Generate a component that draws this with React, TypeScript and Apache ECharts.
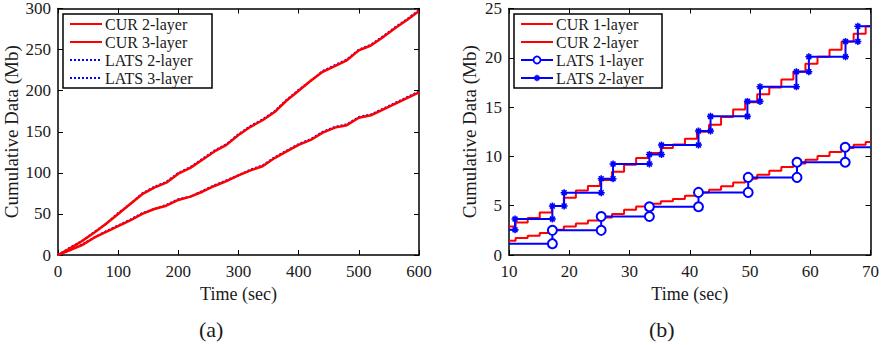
import React, { useEffect, useRef } from "react";
import * as echarts from "echarts";

// ---------- Panel (a) ----------
const timeA = [0, 20, 40, 60, 80, 100, 120, 140, 160, 180, 200, 220, 240, 260, 280, 300, 320, 340, 360, 380, 400, 420, 440, 460, 480, 500, 520, 540, 560, 580, 600];
const cur2A = [0, 6, 12, 21, 28, 35, 42, 50, 56, 60, 67, 71, 77, 84, 90, 97, 103, 108, 118, 126, 134, 140, 149, 155, 158, 167, 170, 177, 184, 191, 198];
const cur3A = [0, 8, 17, 27, 38, 50, 62, 74, 82, 88, 99, 106, 116, 126, 134, 146, 156, 164, 174, 188, 200, 212, 223, 230, 237, 249, 255, 265, 276, 286, 297];
const lats2A = [0, 6, 13, 21, 29, 36, 43, 51, 56, 61, 68, 71, 78, 85, 91, 97, 104, 109, 119, 127, 135, 141, 150, 156, 159, 168, 171, 178, 185, 192, 199];
const lats3A = [0, 9, 17, 28, 38, 51, 62, 75, 83, 89, 100, 107, 117, 127, 135, 147, 157, 165, 175, 189, 201, 212, 224, 231, 238, 250, 256, 266, 277, 287, 298];
const legendA = ["CUR 2-layer", "CUR 3-layer", "LATS 2-layer", "LATS 3-layer"];

// ---------- Panel (b) ----------
const curTimesB = [10, 11.1, 13.1, 15.1, 17.1, 19.1, 21.1, 23.1, 25.1, 27.1, 29.1, 31.1, 33.2, 35.2, 37.2, 39.2, 41.2, 43.2, 45.2, 47.2, 49.2, 51.2, 53.2, 55.2, 57.2, 59.2, 61.2, 63.2, 65.2, 67.2, 69.2];
const cur1B = [1.45, 1.72, 1.96, 2.23, 2.56, 2.9, 3.2, 3.5, 3.8, 4.15, 4.6, 4.93, 5.2, 5.44, 5.68, 6.0, 6.35, 6.62, 6.96, 7.36, 7.74, 8.14, 8.55, 8.92, 9.29, 9.66, 10.04, 10.44, 10.85, 11.19, 11.46];
const cur2B = [2.9, 3.3, 3.75, 4.32, 4.97, 5.8, 6.55, 7.0, 7.6, 8.45, 9.15, 9.85, 10.35, 10.85, 11.2, 11.8, 12.5, 13.2, 14.0, 14.75, 15.5, 16.3, 17.0, 17.8, 18.6, 19.4, 20.1, 20.82, 21.66, 22.45, 23.2];
const lats1TimesB = [17.2, 25.3, 33.3, 41.45, 49.7, 57.8, 65.8];
const lats1LevelsB = [1.15, 2.5, 3.9, 4.9, 6.35, 7.87, 9.4, 10.92];
const lats2TimesB = [11.0, 17.2, 19.15, 25.3, 27.27, 33.3, 35.3, 41.45, 43.45, 49.57, 51.66, 57.7, 59.77, 65.85, 67.9];
const lats2LevelsB = [2.55, 3.65, 4.97, 6.32, 7.74, 9.23, 10.2, 11.15, 12.57, 14.06, 15.58, 17.07, 18.59, 20.1, 21.66, 23.2];
const legendB = ["CUR 1-layer", "CUR 2-layer", "LATS 1-layer", "LATS 2-layer"];

const FONT = "Liberation Serif";
const TXT = "#1a1a1a";
const RED = "#ff0000";
const BLUE = "#0000ff";
const ASTERISK = "path://M0,5L10,5M5,0L5,10M1.5,1.5L8.5,8.5M8.5,1.5L1.5,8.5";

function curSteps(times: number[], vals: number[], xEnd: number) {
  const d = times.map((t, i) => [t, vals[i]]);
  d.push([xEnd, vals[vals.length - 1]]);
  return d;
}

function latsSteps(times: number[], levels: number[], xStart: number, xEnd: number) {
  const d: any[] = [{ value: [xStart, levels[0]], symbol: "none" }];
  times.forEach((t, i) => {
    d.push([t, levels[i]]);
    d.push([t, levels[i + 1]]);
  });
  d.push({ value: [xEnd, levels[levels.length - 1]], symbol: "none" });
  return d;
}

function axisCommon(extra: any) {
  return {
    type: "value",
    splitLine: { show: false },
    axisLine: { show: true, onZero: false, lineStyle: { color: "#000", width: 1.5 } },
    axisTick: { show: true, inside: true, length: 5, lineStyle: { color: "#000", width: 1 } },
    ...extra,
  };
}

const lab = (margin: number) => ({ color: TXT, fontFamily: FONT, fontSize: 17, fontWeight: "normal", margin });
const xName = { color: TXT, fontFamily: FONT, fontSize: 18, fontWeight: "normal" };
const yName = { color: TXT, fontFamily: FONT, fontSize: 19, fontWeight: "normal" };

function legendBox(x: number, y: number, w: number, names: string[], kinds: string[]) {
  const children: any[] = [
    { type: "rect", shape: { x, y, width: w, height: 74 }, style: { fill: "#fff", stroke: "#000", lineWidth: 1.5 }, z: 100 },
  ];
  names.forEach((n, i) => {
    const cy = y + 10 + 18 * i;
    const x1 = x + 7, x2 = x + 39, cx = (x1 + x2) / 2;
    const k = kinds[i];
    const lineStyle: any = { stroke: k === "red" ? RED : BLUE, lineWidth: 2 };
    if (k === "dotted") lineStyle.lineDash = [2, 2];
    children.push({ type: "line", shape: { x1, y1: cy, x2, y2: cy }, style: lineStyle, z: 101 });
    if (k === "circle") {
      children.push({ type: "circle", shape: { cx, cy, r: 3.5 }, style: { fill: "#fff", stroke: BLUE, lineWidth: 1.8 }, z: 102 });
    }
    if (k === "star") {
      const s = 3.2;
      [[-s, 0, s, 0], [0, -s, 0, s], [-s * 0.7, -s * 0.7, s * 0.7, s * 0.7], [s * 0.7, -s * 0.7, -s * 0.7, s * 0.7]].forEach((p) => {
        children.push({ type: "line", shape: { x1: cx + p[0], y1: cy + p[1], x2: cx + p[2], y2: cy + p[3] }, style: { stroke: BLUE, lineWidth: 1.6 }, z: 102 });
      });
    }
    children.push({ type: "text", x: x + 42, y: cy, style: { text: n, fill: TXT, font: `16px ${FONT}`, verticalAlign: "middle" }, z: 102 });
  });
  return { type: "group", children };
}

export default function App() {
  const ref = useRef<HTMLDivElement>(null);
  useEffect(() => {
    if (!ref.current) return;
    const chart = echarts.init(ref.current, undefined, { renderer: "svg" });
    chart.setOption({
      animation: false,
      backgroundColor: "#fff",
      textStyle: { fontFamily: FONT },
      grid: [
        { left: 58, top: 8, width: 361, height: 247 },
        { left: 509, top: 8, width: 362, height: 247 },
      ],
      xAxis: [
        axisCommon({ gridIndex: 0, position: "bottom", min: 0, max: 600, interval: 100, axisLabel: lab(8), name: "Time (sec)", nameLocation: "middle", nameGap: 26, nameTextStyle: xName }),
        axisCommon({ gridIndex: 0, position: "top", min: 0, max: 600, interval: 100, axisLabel: { show: false } }),
        axisCommon({ gridIndex: 1, position: "bottom", min: 10, max: 70, interval: 10, axisLabel: lab(8), name: "Time (sec)", nameLocation: "middle", nameGap: 26, nameTextStyle: xName }),
        axisCommon({ gridIndex: 1, position: "top", min: 10, max: 70, interval: 10, axisLabel: { show: false } }),
      ],
      yAxis: [
        axisCommon({ gridIndex: 0, position: "left", min: 0, max: 300, interval: 50, axisLabel: lab(7), name: "Cumulative Data (Mb)", nameLocation: "middle", nameGap: 37, nameTextStyle: yName }),
        axisCommon({ gridIndex: 0, position: "right", min: 0, max: 300, interval: 50, axisLabel: { show: false } }),
        axisCommon({ gridIndex: 1, position: "left", min: 0, max: 25, interval: 5, axisLabel: lab(7), name: "Cumulative Data (Mb)", nameLocation: "middle", nameGap: 30, nameTextStyle: yName }),
        axisCommon({ gridIndex: 1, position: "right", min: 0, max: 25, interval: 5, axisLabel: { show: false } }),
      ],
      series: [
        { name: "LATS 2-layer (a)", type: "line", xAxisIndex: 0, yAxisIndex: 0, symbol: "none", z: 2, data: timeA.map((t, i) => [t, lats2A[i]]), lineStyle: { color: BLUE, width: 2, type: [2, 2] }, itemStyle: { color: BLUE } },
        { name: "LATS 3-layer (a)", type: "line", xAxisIndex: 0, yAxisIndex: 0, symbol: "none", z: 2, data: timeA.map((t, i) => [t, lats3A[i]]), lineStyle: { color: BLUE, width: 2, type: [2, 2] }, itemStyle: { color: BLUE } },
        { name: "CUR 2-layer (a)", type: "line", xAxisIndex: 0, yAxisIndex: 0, symbol: "none", z: 3, data: timeA.map((t, i) => [t, cur2A[i]]), lineStyle: { color: RED, width: 2.5 }, itemStyle: { color: RED } },
        { name: "CUR 3-layer (a)", type: "line", xAxisIndex: 0, yAxisIndex: 0, symbol: "none", z: 3, data: timeA.map((t, i) => [t, cur3A[i]]), lineStyle: { color: RED, width: 2.5 }, itemStyle: { color: RED } },
        { name: "CUR 1-layer (b)", type: "line", xAxisIndex: 2, yAxisIndex: 2, symbol: "none", step: "end", z: 2, data: curSteps(curTimesB, cur1B, 70), lineStyle: { color: RED, width: 2 }, itemStyle: { color: RED } },
        { name: "CUR 2-layer (b)", type: "line", xAxisIndex: 2, yAxisIndex: 2, symbol: "none", step: "end", z: 2, data: curSteps(curTimesB, cur2B, 70), lineStyle: { color: RED, width: 2 }, itemStyle: { color: RED } },
        { name: "LATS 1-layer (b)", type: "line", xAxisIndex: 2, yAxisIndex: 2, symbol: "emptyCircle", symbolSize: 9, z: 3, data: latsSteps(lats1TimesB, lats1LevelsB, 10, 70), lineStyle: { color: BLUE, width: 2 }, itemStyle: { color: BLUE, borderColor: BLUE, borderWidth: 2 } },
        { name: "LATS 2-layer (b)", type: "line", xAxisIndex: 2, yAxisIndex: 2, symbol: ASTERISK, symbolSize: 7, z: 3, data: latsSteps(lats2TimesB, lats2LevelsB, 10, 70), lineStyle: { color: BLUE, width: 2 }, itemStyle: { color: BLUE, borderColor: BLUE, borderWidth: 1.6 } },
      ],
      graphic: [
        legendBox(63, 14, 149, legendA, ["red", "red", "dotted", "dotted"]),
        legendBox(514, 14, 148, legendB, ["red", "red", "circle", "star"]),
        { type: "text", left: 199, top: 318, style: { text: "(a)", fill: TXT, font: `22px ${FONT}` } },
        { type: "text", left: 649, top: 318, style: { text: "(b)", fill: TXT, font: `22px ${FONT}` } },
      ],
    });
    return () => chart.dispose();
  }, []);
  return <div ref={ref} style={{ position: "fixed", left: 0, top: 0, width: 882, height: 345 }} />;
}
